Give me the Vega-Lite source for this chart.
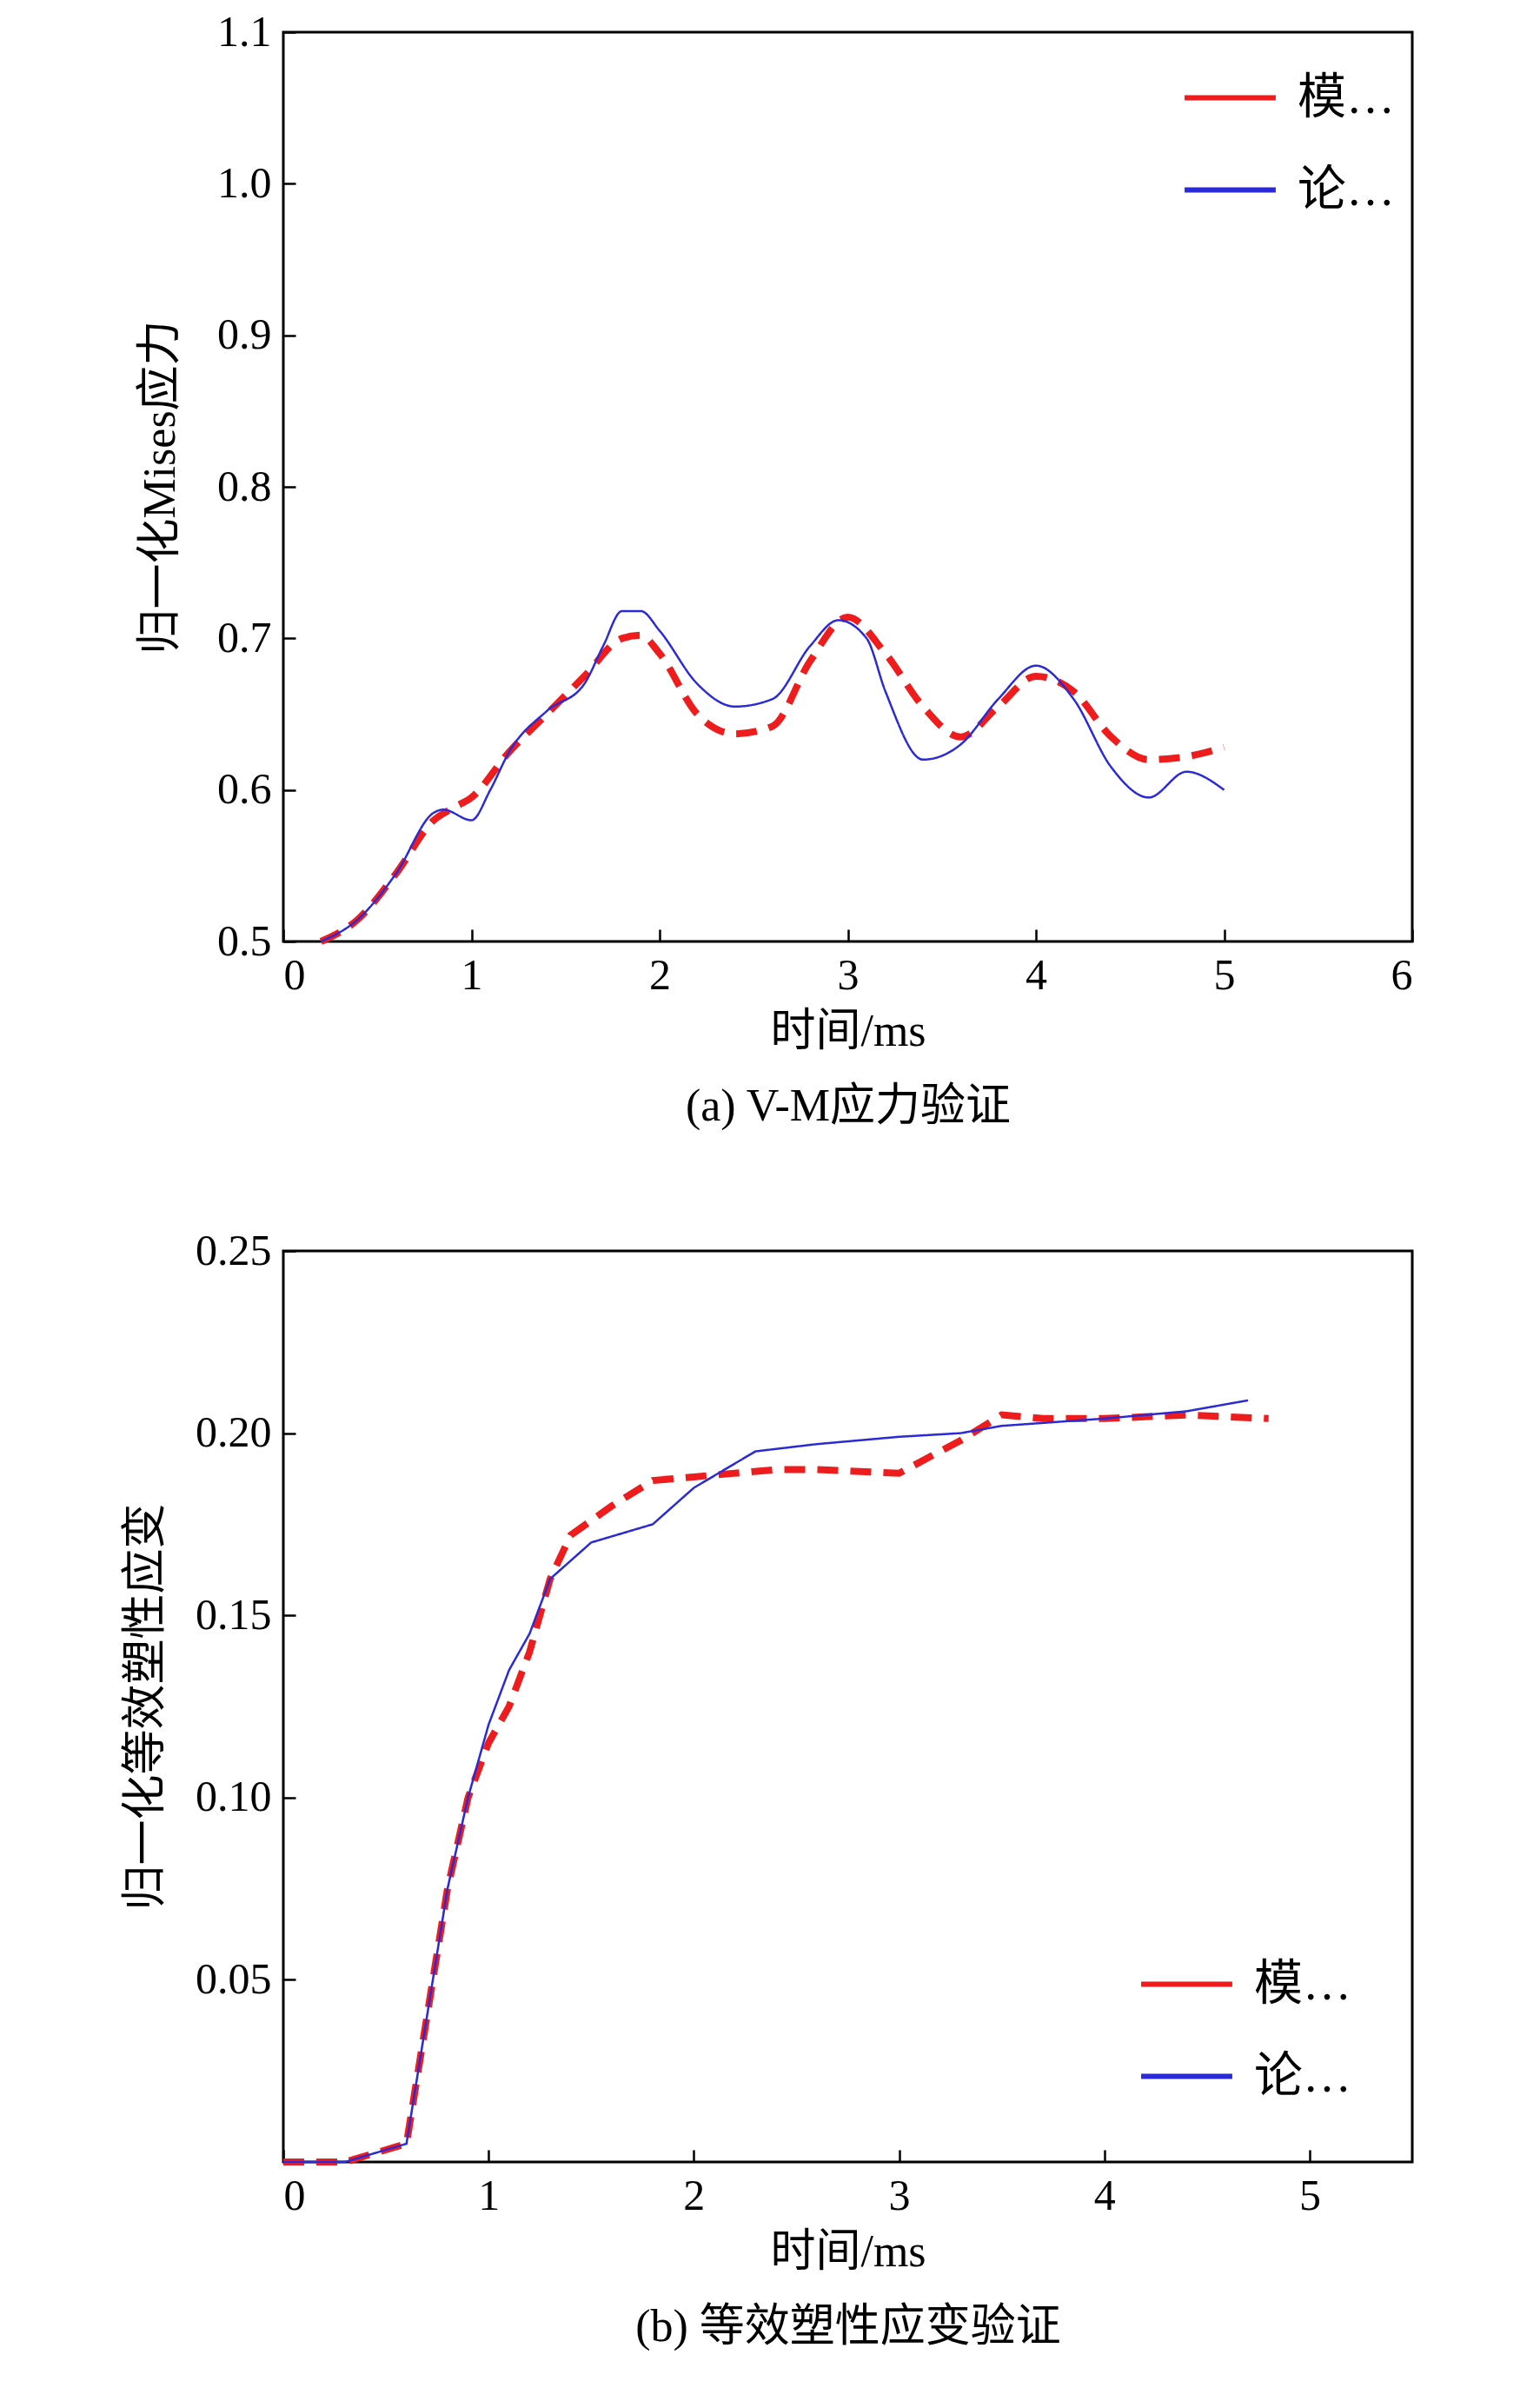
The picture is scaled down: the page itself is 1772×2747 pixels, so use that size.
{
  "$schema": "https://vega.github.io/schema/vega-lite/v6.json",
  "padding": {"left": 140, "top": 10, "right": 20, "bottom": 20},
  "background": "white",
  "spacing": 356,
  "bounds": "flush",
  "config": {
    "font": "Liberation Serif, Noto Sans CJK SC",
    "view": {"stroke": "black", "strokeWidth": 3},
    "axis": {
      "domain": false, "grid": false, "ticks": true, "tickSize": -14, "tickColor": "black", "tickWidth": 2.5,
      "labelFont": "Liberation Serif", "labelFontSize": 50, "labelColor": "black", "labelPadding": 28,
      "titleFont": "Liberation Serif, Noto Sans CJK SC", "titleFontSize": 52, "titleFontWeight": "normal", "titleColor": "black"
    },
    "legend": {
      "labelFont": "Liberation Serif, Noto Sans CJK SC", "labelFontSize": 56, "labelColor": "black",
      "symbolType": "stroke", "symbolSize": 11000, "symbolStrokeWidth": 6, "rowPadding": 22, "labelOffset": 22
    }
  },
  "vconcat": [
    {
      "width": 1299,
      "height": 1046,
      "data": {"values": [
        {"t":0.2,"v":0.5,"s":"模拟结果"},{"t":0.4,"v":0.515,"s":"模拟结果"},{"t":0.6,"v":0.545,"s":"模拟结果"},{"t":0.8,"v":0.58,"s":"模拟结果"},{"t":0.9,"v":0.588,"s":"模拟结果"},{"t":1.0,"v":0.595,"s":"模拟结果"},{"t":1.2,"v":0.625,"s":"模拟结果"},{"t":1.4,"v":0.65,"s":"模拟结果"},{"t":1.6,"v":0.675,"s":"模拟结果"},{"t":1.8,"v":0.7,"s":"模拟结果"},{"t":1.9,"v":0.702,"s":"模拟结果"},{"t":2.0,"v":0.69,"s":"模拟结果"},{"t":2.2,"v":0.65,"s":"模拟结果"},{"t":2.4,"v":0.637,"s":"模拟结果"},{"t":2.6,"v":0.642,"s":"模拟结果"},{"t":2.8,"v":0.685,"s":"模拟结果"},{"t":3.0,"v":0.714,"s":"模拟结果"},{"t":3.2,"v":0.69,"s":"模拟结果"},{"t":3.4,"v":0.655,"s":"模拟结果"},{"t":3.6,"v":0.635,"s":"模拟结果"},{"t":3.8,"v":0.655,"s":"模拟结果"},{"t":4.0,"v":0.675,"s":"模拟结果"},{"t":4.2,"v":0.665,"s":"模拟结果"},{"t":4.4,"v":0.635,"s":"模拟结果"},{"t":4.6,"v":0.62,"s":"模拟结果"},{"t":4.8,"v":0.622,"s":"模拟结果"},{"t":5.0,"v":0.628,"s":"模拟结果"},
        {"t":0.2,"v":0.5,"s":"论文结果"},{"t":0.4,"v":0.515,"s":"论文结果"},{"t":0.6,"v":0.545,"s":"论文结果"},{"t":0.8,"v":0.585,"s":"论文结果"},{"t":0.85,"v":0.587,"s":"论文结果"},{"t":1.0,"v":0.58,"s":"论文结果"},{"t":1.1,"v":0.6,"s":"论文结果"},{"t":1.2,"v":0.625,"s":"论文结果"},{"t":1.4,"v":0.652,"s":"论文结果"},{"t":1.6,"v":0.67,"s":"论文结果"},{"t":1.7,"v":0.695,"s":"论文结果"},{"t":1.8,"v":0.718,"s":"论文结果"},{"t":1.9,"v":0.718,"s":"论文结果"},{"t":2.0,"v":0.705,"s":"论文结果"},{"t":2.2,"v":0.67,"s":"论文结果"},{"t":2.4,"v":0.655,"s":"论文结果"},{"t":2.6,"v":0.66,"s":"论文结果"},{"t":2.8,"v":0.695,"s":"论文结果"},{"t":2.95,"v":0.712,"s":"论文结果"},{"t":3.1,"v":0.7,"s":"论文结果"},{"t":3.2,"v":0.665,"s":"论文结果"},{"t":3.4,"v":0.62,"s":"论文结果"},{"t":3.6,"v":0.63,"s":"论文结果"},{"t":3.8,"v":0.66,"s":"论文结果"},{"t":4.0,"v":0.682,"s":"论文结果"},{"t":4.2,"v":0.66,"s":"论文结果"},{"t":4.4,"v":0.615,"s":"论文结果"},{"t":4.6,"v":0.595,"s":"论文结果"},{"t":4.8,"v":0.612,"s":"论文结果"},{"t":5.0,"v":0.6,"s":"论文结果"}
      ]},
      "mark": {"type": "line", "interpolate": "monotone"},
      "encoding": {
        "x": {"field": "t", "type": "quantitative", "scale": {"domain": [0, 6], "nice": false},
          "axis": {"values": [0,1,2,3,4,5,6], "title": ["时间/ms", "(a) V-M应力验证"], "titleLineHeight": 86, "titlePadding": 14}},
        "y": {"field": "v", "type": "quantitative", "scale": {"domain": [0.5, 1.1], "nice": false, "zero": false},
          "axis": {"values": [0.5,0.6,0.7,0.8,0.9,1.0,1.1], "format": ".1f", "title": "归一化Mises应力", "titlePadding": 38}},
        "color": {"field": "s", "type": "nominal", "scale": {"domain": ["模拟结果","论文结果"], "range": ["#ee1c1c","#2a2ad6"]},
          "legend": {"title": null, "orient": "top-right", "offset": 20}},
        "strokeDash": {"field": "s", "type": "nominal", "scale": {"domain": ["模拟结果","论文结果"], "range": [[24,14],[1,0]]}, "legend": null},
        "strokeWidth": {"field": "s", "type": "nominal", "scale": {"domain": ["模拟结果","论文结果"], "range": [8,2.5]}, "legend": null}
      }
    },
    {
      "width": 1299,
      "height": 1048,
      "data": {"values": [
        {"t":0,"v":0,"s":"模拟结果"},{"t":0.3,"v":0,"s":"模拟结果"},{"t":0.6,"v":0.005,"s":"模拟结果"},{"t":0.7,"v":0.04,"s":"模拟结果"},{"t":0.8,"v":0.075,"s":"模拟结果"},{"t":0.9,"v":0.1,"s":"模拟结果"},{"t":1.0,"v":0.115,"s":"模拟结果"},{"t":1.1,"v":0.125,"s":"模拟结果"},{"t":1.2,"v":0.14,"s":"模拟结果"},{"t":1.3,"v":0.16,"s":"模拟结果"},{"t":1.4,"v":0.172,"s":"模拟结果"},{"t":1.6,"v":0.18,"s":"模拟结果"},{"t":1.8,"v":0.187,"s":"模拟结果"},{"t":2.0,"v":0.188,"s":"模拟结果"},{"t":2.4,"v":0.19,"s":"模拟结果"},{"t":2.6,"v":0.19,"s":"模拟结果"},{"t":3.0,"v":0.189,"s":"模拟结果"},{"t":3.3,"v":0.198,"s":"模拟结果"},{"t":3.5,"v":0.205,"s":"模拟结果"},{"t":3.7,"v":0.204,"s":"模拟结果"},{"t":4.0,"v":0.204,"s":"模拟结果"},{"t":4.4,"v":0.205,"s":"模拟结果"},{"t":4.8,"v":0.204,"s":"模拟结果"},
        {"t":0,"v":0,"s":"论文结果"},{"t":0.3,"v":0,"s":"论文结果"},{"t":0.6,"v":0.005,"s":"论文结果"},{"t":0.7,"v":0.04,"s":"论文结果"},{"t":0.8,"v":0.075,"s":"论文结果"},{"t":0.9,"v":0.1,"s":"论文结果"},{"t":1.0,"v":0.12,"s":"论文结果"},{"t":1.1,"v":0.135,"s":"论文结果"},{"t":1.2,"v":0.145,"s":"论文结果"},{"t":1.3,"v":0.16,"s":"论文结果"},{"t":1.5,"v":0.17,"s":"论文结果"},{"t":1.8,"v":0.175,"s":"论文结果"},{"t":2.0,"v":0.185,"s":"论文结果"},{"t":2.3,"v":0.195,"s":"论文结果"},{"t":2.6,"v":0.197,"s":"论文结果"},{"t":3.0,"v":0.199,"s":"论文结果"},{"t":3.3,"v":0.2,"s":"论文结果"},{"t":3.5,"v":0.202,"s":"论文结果"},{"t":4.0,"v":0.204,"s":"论文结果"},{"t":4.4,"v":0.206,"s":"论文结果"},{"t":4.7,"v":0.209,"s":"论文结果"}
      ]},
      "mark": {"type": "line"},
      "encoding": {
        "x": {"field": "t", "type": "quantitative", "scale": {"domain": [0, 5.5], "nice": false},
          "axis": {"values": [0,1,2,3,4,5], "title": ["时间/ms", "(b) 等效塑性应变验证"], "titleLineHeight": 86, "titlePadding": 14}},
        "y": {"field": "v", "type": "quantitative", "scale": {"domain": [0, 0.25], "nice": false},
          "axis": {"values": [0,0.05,0.1,0.15,0.2,0.25], "format": ".2f", "labelExpr": "datum.value == 0 ? '' : datum.label", "title": "归一化等效塑性应变", "titlePadding": 30}},
        "color": {"field": "s", "type": "nominal", "scale": {"domain": ["模拟结果","论文结果"], "range": ["#ee1c1c","#2a2ad6"]},
          "legend": {"title": null, "orient": "bottom-right", "offset": 70}},
        "strokeDash": {"field": "s", "type": "nominal", "scale": {"domain": ["模拟结果","论文结果"], "range": [[24,14],[10,7]]}, "legend": null},
        "strokeWidth": {"field": "s", "type": "nominal", "scale": {"domain": ["模拟结果","论文结果"], "range": [8,2.5]}, "legend": null}
      }
    }
  ]
}
